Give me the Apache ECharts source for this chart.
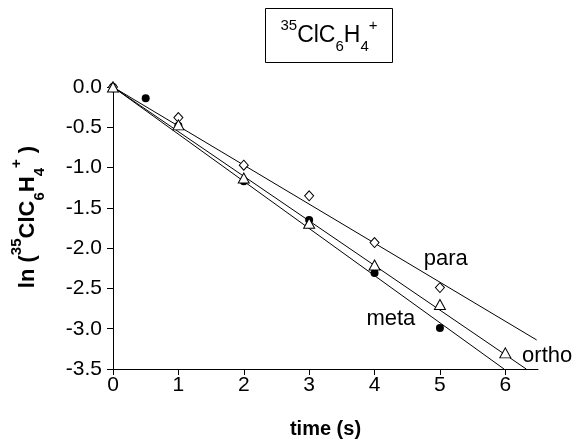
<!DOCTYPE html>
<html>
<head>
<meta charset="utf-8">
<script src="https://cdn.jsdelivr.net/npm/echarts@6/dist/echarts.min.js"></script>
<style>
  html, body { margin: 0; padding: 0; background: #fff; }
  #main { width: 573px; height: 442px; }
</style>
</head>
<body>
<div id="main"></div>
<script>
// 数据点 [time, ln]
var paraPts = [[0, 0], [1, -0.38], [2, -0.97], [3, -1.35], [4, -1.93], [5, -2.49]];
var metaPts = [[0, 0], [0.5, -0.14], [1, -0.48], [2, -1.17], [3, -1.65], [4, -2.31], [5, -2.99]];
var orthoPts = [[0, 0], [1, -0.47], [2, -1.13], [3, -1.69], [4, -2.21], [5, -2.70], [6, -3.30]];
// 拟合直线端点
var paraFit = [[0, 0], [6.48, -3.14]];
var orthoFit = [[0, 0], [6.32, -3.5]];
var metaFit = [[0, 0], [5.98, -3.5]];
var xTicks = [0, 1, 2, 3, 4, 5, 6];
// 曲线名称标注位置
var curveLabels = [
    {text: 'para', at: [5.09, -2.13]},
    {text: 'meta', at: [4.25, -2.88]},
    {text: 'ortho', at: [6.64, -3.34]}
];

var FONT = 'Liberation Sans, Arial, sans-serif';

function fitLine(d) {
    return {
        type: 'line', data: d, symbol: 'none', silent: true, z: 1,
        lineStyle: {color: '#000', width: 1}
    };
}

var myChart = echarts.init(document.getElementById('main'));

var option = {
    animation: false,
    backgroundColor: '#fff',
    grid: {left: 113, right: 35, top: 87, bottom: 73, containLabel: false, outerBoundsMode: 'none'},
    xAxis: {
        type: 'value', min: 0, max: 6.5, interval: 1,
        name: 'time (s)', nameLocation: 'middle', nameGap: 50,
        nameTextStyle: {fontFamily: FONT, fontSize: 20, fontWeight: 'bold', color: '#000'},
        axisLine: {onZero: false, lineStyle: {color: '#000', width: 1}},
        axisTick: {inside: false, length: 6, lineStyle: {color: '#000'}, customValues: xTicks},
        axisLabel: {fontFamily: FONT, fontSize: 21, color: '#000', margin: 6, customValues: xTicks},
        splitLine: {show: false}
    },
    yAxis: {
        type: 'value', min: -3.5, max: 0, interval: 0.5,
        name: '{b|ln (}{sup|35}{b|ClC}{sub|6}{b|H}{sub|4}{sup|+}{b| )}',
        nameLocation: 'middle', nameGap: 66,
        nameTextStyle: {
            color: '#000',
            padding: [0, 0, 0, 22],
            rich: {
                b: {fontFamily: FONT, fontSize: 22, fontWeight: 'bold', color: '#000', lineHeight: 38, verticalAlign: 'middle'},
                sup: {fontFamily: FONT, fontSize: 15, fontWeight: 'bold', color: '#000', verticalAlign: 'top'},
                sub: {fontFamily: FONT, fontSize: 15, fontWeight: 'bold', color: '#000', verticalAlign: 'bottom'}
            }
        },
        axisLine: {lineStyle: {color: '#000', width: 1}},
        axisTick: {inside: false, length: 6, lineStyle: {color: '#000'}},
        axisLabel: {
            fontFamily: FONT, fontSize: 21, color: '#000', margin: 11,
            formatter: function (v) { return v.toFixed(1); }
        },
        splitLine: {show: false}
    },
    series: [
        fitLine(paraFit),
        fitLine(orthoFit),
        fitLine(metaFit),
        {
            type: 'scatter', name: 'meta', data: metaPts, symbol: 'circle', symbolSize: 8, z: 3,
            itemStyle: {color: '#000', opacity: 1}
        },
        {
            type: 'scatter', name: 'para', data: paraPts, symbol: 'diamond', symbolSize: [9, 10], z: 4,
            itemStyle: {color: '#fff', borderColor: '#000', borderWidth: 1, opacity: 1}
        },
        {
            type: 'scatter', name: 'ortho', data: orthoPts, symbol: 'triangle', symbolSize: [11, 10], z: 5,
            itemStyle: {color: '#fff', borderColor: '#000', borderWidth: 1, opacity: 1}
        }
    ]
};

myChart.setOption(option);

// 标题框 + 曲线名称
var graphics = [
    {
        type: 'rect', left: 265, top: 8, z: 10,
        shape: {width: 127, height: 54},
        style: {fill: '#fff', stroke: '#000', lineWidth: 1}
    },
    {
        type: 'text', x: 329, y: 36, z: 11,
        style: {
            text: '{sup|35}{n|ClC}{sub|6}{n|H}{sub|4}{sup|+}',
            align: 'center', verticalAlign: 'middle',
            rich: {
                n: {fontFamily: FONT, fontSize: 23, fill: '#000', lineHeight: 36, verticalAlign: 'middle'},
                sup: {fontFamily: FONT, fontSize: 15, fill: '#000', verticalAlign: 'top'},
                sub: {fontFamily: FONT, fontSize: 15, fill: '#000', verticalAlign: 'bottom'}
            }
        }
    }
];
curveLabels.forEach(function (c) {
    var p = myChart.convertToPixel({gridIndex: 0}, c.at);
    graphics.push({
        type: 'text', x: p[0], y: p[1], z: 12,
        style: {text: c.text, fontFamily: FONT, fontSize: 22, fill: '#000', align: 'center', verticalAlign: 'middle'}
    });
});
myChart.setOption({graphic: graphics});
</script>
</body>
</html>
